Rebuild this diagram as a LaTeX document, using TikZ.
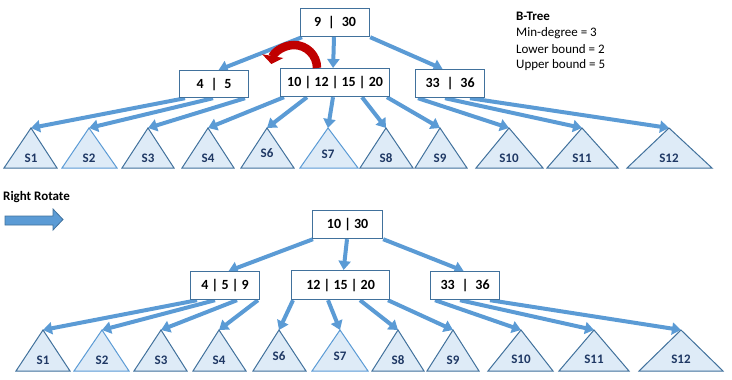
\documentclass[tikz,border=0pt]{standalone}
\usepackage{fontspec}
\setmainfont{Carlito}
\usetikzlibrary{arrows.meta,calc}
\definecolor{arrblue}{HTML}{5B9BD5}
\definecolor{boxblue}{HTML}{41719C}
\definecolor{trifill}{HTML}{DEEBF7}
\definecolor{navy}{HTML}{1F3864}
\definecolor{rotred}{HTML}{C00000}
\pgfdeclarelayer{bg}
\pgfsetlayers{bg,main}
\tikzset{
  keybox/.style={draw=boxblue, line width=1.2pt, fill=white, inner sep=0pt,
    anchor=north west, font=\fontsize{14}{16}\selectfont\bfseries},
  ptr/.style={draw=arrblue, line width=4pt, -{Triangle[width=12pt,length=9pt]}},
  tri/.style={fill=trifill, line width=1pt},
  trilabel/.style={text=navy, inner sep=0pt, font=\fontsize{13}{15}\selectfont\bfseries},
  note/.style={inner sep=0pt, anchor=west, font=\fontsize{13}{15}\selectfont},
  rot/.style={draw=rotred, line width=8.5pt, -{Triangle[width=21pt,length=8pt]}}
}
% #1 colour, #2 name, #3 apex x, #4 apex y, #5 left x, #6 right x, #7 base y, #8 label, #9 label y
\newcommand{\sbt}[9][boxblue]{%
  \draw[tri, draw=#1] (#5,#7) -- (#3,#4) -- (#6,#7) -- cycle;
  \coordinate (#2) at (#3,#4);
  \node[trilabel] (#2l) at (#3,#9) {#8};
}
\begin{document}
\begin{tikzpicture}[x=1pt,y=-1pt]
\useasboundingbox (0,0) rectangle (732,380);

% ---------- top tree ----------
\node[keybox, minimum width=69pt, minimum height=28pt] (r1) at (300,8) {9\enspace|\enspace30};
\node[keybox, minimum width=69pt, minimum height=27pt] (n45) at (179,70) {4\enspace|\enspace5};
\node[keybox, minimum width=109pt, minimum height=28pt] (nm) at (280,68) {10 | 12 | 15 | 20};
\node[keybox, minimum width=69pt, minimum height=28pt] (n33) at (415,69) {33\enspace|\enspace36};

\sbt{s1}{31}{128}{4}{57}{168}{S1}{158}
\sbt[arrblue]{s2}{89}{128}{62}{117}{168}{S2}{158}
\sbt{s3}{148}{128}{122}{174}{168}{S3}{158}
\sbt{s4}{208}{128}{182}{234}{168}{S4}{158}
\sbt{s6}{267}{128}{241}{294}{168}{S6}{153}
\sbt[arrblue]{s7}{328}{128}{300}{358}{168}{S7}{154}
\sbt{s8}{386}{128}{360}{413}{168}{S8}{158}
\sbt{s9}{440}{128}{415}{467}{168}{S9}{158}
\sbt{s10}{509}{128}{476}{543}{168}{S10}{158}
\sbt{s11}{582}{128}{547}{618}{168}{S11}{158}
\sbt{s12}{669}{128}{627}{712}{168}{S12}{158}

\begin{pgfonlayer}{bg}
\draw[ptr] ([xshift=2pt]r1.south west) -- ([xshift=4.5pt]n45.north);
\draw[ptr] ([xshift=34pt]r1.south west) -- ([xshift=-2pt]nm.north);
\draw[ptr] (r1.south east) -- ([xshift=-7.5pt]n33.north);
\draw[ptr] ([xshift=6pt]n45.south west) -- (s1);
\draw[ptr] ([xshift=34pt]n45.south west) -- (s2);
\draw[ptr] ([xshift=66pt]n45.south west) -- (s3);
\draw[ptr] ([xshift=4pt]nm.south west) -- (s4);
\draw[ptr] ([xshift=27pt]nm.south west) -- (s6);
\draw[ptr] ([xshift=53pt]nm.south west) -- (s7);
\draw[ptr] ([xshift=82pt]nm.south west) -- (s8);
\draw[ptr] ([xshift=107pt]nm.south west) -- (s9);
\draw[ptr] ([xshift=3pt]n33.south west) -- (s10);
\draw[ptr] ([xshift=30pt]n33.south west) -- (s11);
\draw[ptr] ([xshift=55pt]n33.south west) -- (s12);
\end{pgfonlayer}

% red rotation arrow
\draw[rot] ([xshift=37pt]nm.north west) arc[start angle=0, end angle=-170, radius=23];

% legend
\node[note, font=\fontsize{13}{15}\selectfont\bfseries] (bt1) at (516,16) {B-Tree};
\node[note] (bt2) at (516,33) {Min-degree = 3};
\node[note] (bt3) at (516,49) {Lower bound = 2};
\node[note] (bt4) at (516,65) {Upper bound = 5};

% right rotate
\node[note, font=\fontsize{13}{15}\selectfont\bfseries] (rr) at (3,197) {Right Rotate};
\draw[fill=arrblue, draw=boxblue, line width=0.8pt]
  (5,216) -- (53,216) -- (53,209) -- (63,219.5) -- (53,230) -- (53,225) -- (5,225) -- cycle;

% ---------- bottom tree ----------
\node[keybox, minimum width=70pt, minimum height=28pt] (r2) at (312,210) {10 | 30};
\node[keybox, minimum width=69pt, minimum height=28pt] (m459) at (190,271) {4 | 5 | 9};
\node[keybox, minimum width=98pt, minimum height=29pt] (m12) at (291,270) {12 | 15 | 20};
\node[keybox, minimum width=69pt, minimum height=28pt] (m33) at (430,271) {33\enspace|\enspace36};

\sbt{b1}{43}{330}{16}{70}{371}{S1}{360}
\sbt[arrblue]{b2}{102}{330}{74}{129}{371}{S2}{360}
\sbt{b3}{161}{330}{134}{187}{371}{S3}{360}
\sbt{b4}{219}{330}{193}{246}{371}{S4}{360}
\sbt{b6}{279}{330}{253}{306}{371}{S6}{356}
\sbt[arrblue]{b7}{340}{330}{312}{368}{371}{S7}{356}
\sbt{b8}{398}{330}{372}{424}{371}{S8}{360}
\sbt{b9}{453}{330}{427}{479}{371}{S9}{360}
\sbt{b10}{521}{330}{488}{553}{371}{S10}{359}
\sbt{b11}{594}{330}{559}{629}{371}{S11}{359}
\sbt{b12}{681}{330}{639}{723}{371}{S12}{359}

\begin{pgfonlayer}{bg}
\draw[ptr] ([xshift=1pt]r2.south west) -- ([xshift=3.5pt]m459.north);
\draw[ptr] ([xshift=35pt]r2.south west) -- ([xshift=3pt]m12.north);
\draw[ptr] (r2.south east) -- ([xshift=-1.5pt]m33.north);
\draw[ptr] ([xshift=7pt]m459.south west) -- (b1);
\draw[ptr] ([xshift=25pt]m459.south west) -- (b2);
\draw[ptr] ([xshift=47pt]m459.south west) -- (b3);
\draw[ptr] ([xshift=68pt]m459.south west) -- (b4);
\draw[ptr] ([xshift=2pt]m12.south west) -- (b6);
\draw[ptr] ([xshift=37pt]m12.south west) -- (b7);
\draw[ptr] ([xshift=69pt]m12.south west) -- (b8);
\draw[ptr] ([xshift=97pt]m12.south west) -- (b9);
\draw[ptr] ([xshift=5pt]m33.south west) -- (b10);
\draw[ptr] ([xshift=30pt]m33.south west) -- (b11);
\draw[ptr] ([xshift=60pt]m33.south west) -- (b12);
\end{pgfonlayer}
\end{tikzpicture}
\end{document}
